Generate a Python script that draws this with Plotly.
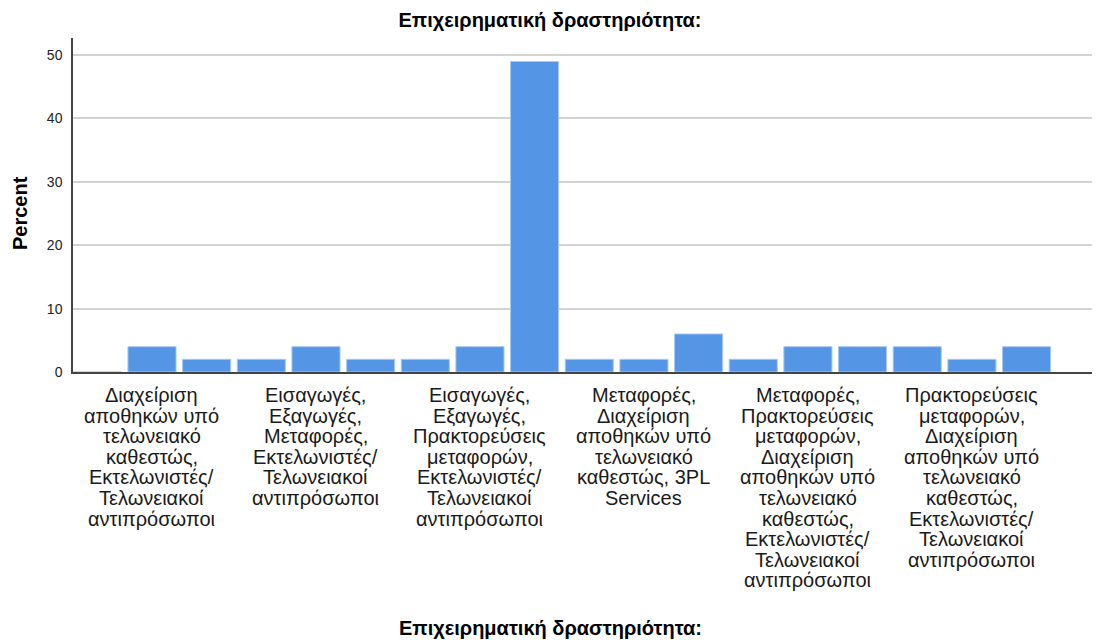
import plotly.graph_objects as go

# Percent for each of the 18 response categories (slot 0 is an empty category)
percent = [0, 4, 2, 2, 4, 2, 2, 4, 49, 2, 2, 6, 2, 4, 4, 4, 2, 4]

# Only every third category label is printed in the reference
label_positions = [1, 4, 7, 10, 13, 16]
labels = [
    ["Διαχείριση", "αποθηκών υπό", "τελωνειακό", "καθεστώς,", "Εκτελωνιστές/", "Τελωνειακοί", "αντιπρόσωποι"],
    ["Εισαγωγές,", "Εξαγωγές,", "Μεταφορές,", "Εκτελωνιστές/", "Τελωνειακοί", "αντιπρόσωποι"],
    ["Εισαγωγές,", "Εξαγωγές,", "Πρακτορεύσεις", "μεταφορών,", "Εκτελωνιστές/", "Τελωνειακοί", "αντιπρόσωποι"],
    ["Μεταφορές,", "Διαχείριση", "αποθηκών υπό", "τελωνειακό", "καθεστώς, 3PL", "Services"],
    ["Μεταφορές,", "Πρακτορεύσεις", "μεταφορών,", "Διαχείριση", "αποθηκών υπό", "τελωνειακό", "καθεστώς,", "Εκτελωνιστές/", "Τελωνειακοί", "αντιπρόσωποι"],
    ["Πρακτορεύσεις", "μεταφορών,", "Διαχείριση", "αποθηκών υπό", "τελωνειακό", "καθεστώς,", "Εκτελωνιστές/", "Τελωνειακοί", "αντιπρόσωποι"],
]
y_ticks = [0, 10, 20, 30, 40, 50]
title_text = "Επιχειρηματική δραστηριότητα:"
y_title = "Percent"

x_pos = list(range(len(percent)))

FONT = "Liberation Sans, Arial, sans-serif"

# layout geometry (figure pixels; the page adds an 8px body margin)
W, H = 1100, 640
PL, PT, PB = 65, 30, 364          # plot left, top, bottom
PH = PB - PT


def ypaper(y_px):
    return (PB - y_px) / PH


def xpaper(x_px):
    return (x_px - PL) / (W - PL)


fig = go.Figure(
    go.Bar(
        x=x_pos,
        y=percent,
        marker=dict(color="#5595e5", line=dict(color="#a9c9f2", width=1)),
        hoverinfo="y",
    )
)

annotations = []
# category labels, one line per annotation (tight SPSS line spacing)
LINE0, LSTEP = 387, 20.6
for pos, lines in zip(label_positions, labels):
    for i, line in enumerate(lines):
        annotations.append(
            dict(
                text=line,
                xref="x", yref="paper",
                x=pos, y=ypaper(LINE0 + i * LSTEP),
                xanchor="center", yanchor="middle",
                showarrow=False,
                font=dict(size=20, color="#1a1a1a", family=FONT),
            )
        )
annotations.append(
    dict(
        text="<b>" + title_text + "</b>",
        xref="paper", yref="paper",
        x=xpaper(542), y=ypaper(620),
        xanchor="center", yanchor="middle",
        showarrow=False,
        font=dict(size=20, color="#000000", family=FONT),
    )
)
annotations.append(
    dict(
        text="<b>" + y_title + "</b>",
        xref="paper", yref="paper",
        x=xpaper(12), y=ypaper(205),
        xanchor="center", yanchor="middle",
        textangle=-90,
        showarrow=False,
        font=dict(size=20, color="#000000", family=FONT),
    )
)

fig.update_layout(
    width=W,
    height=H,
    margin=dict(l=PL, r=0, t=PT, b=H - PB, autoexpand=False),
    paper_bgcolor="white",
    plot_bgcolor="white",
    bargap=0.12,
    showlegend=False,
    font=dict(family=FONT, color="#000000"),
    title=dict(
        text="<b>" + title_text + "</b>",
        x=542 / W,
        xanchor="center",
        xref="container",
        y=1 - 12 / H,
        yanchor="middle",
        font=dict(size=20, color="#000000", family=FONT),
    ),
    annotations=annotations,
)

fig.update_xaxes(
    range=[-0.445, 18.49],
    showticklabels=False,
    showgrid=False,
    zeroline=False,
    showline=True,
    linecolor="#444444",
    linewidth=1.5,
    ticks="",
    automargin=False,
)

fig.update_yaxes(
    range=[0, 52.7],
    tickmode="array",
    tickvals=y_ticks,
    tickfont=dict(size=14, color="#222222", family=FONT),
    showgrid=True,
    gridcolor="#d3d3d3",
    gridwidth=1.5,
    zeroline=False,
    showline=True,
    linecolor="#444444",
    linewidth=1.5,
    ticks="",
    ticklabelstandoff=6,
    automargin=False,
)

fig.write_html("out.html")
